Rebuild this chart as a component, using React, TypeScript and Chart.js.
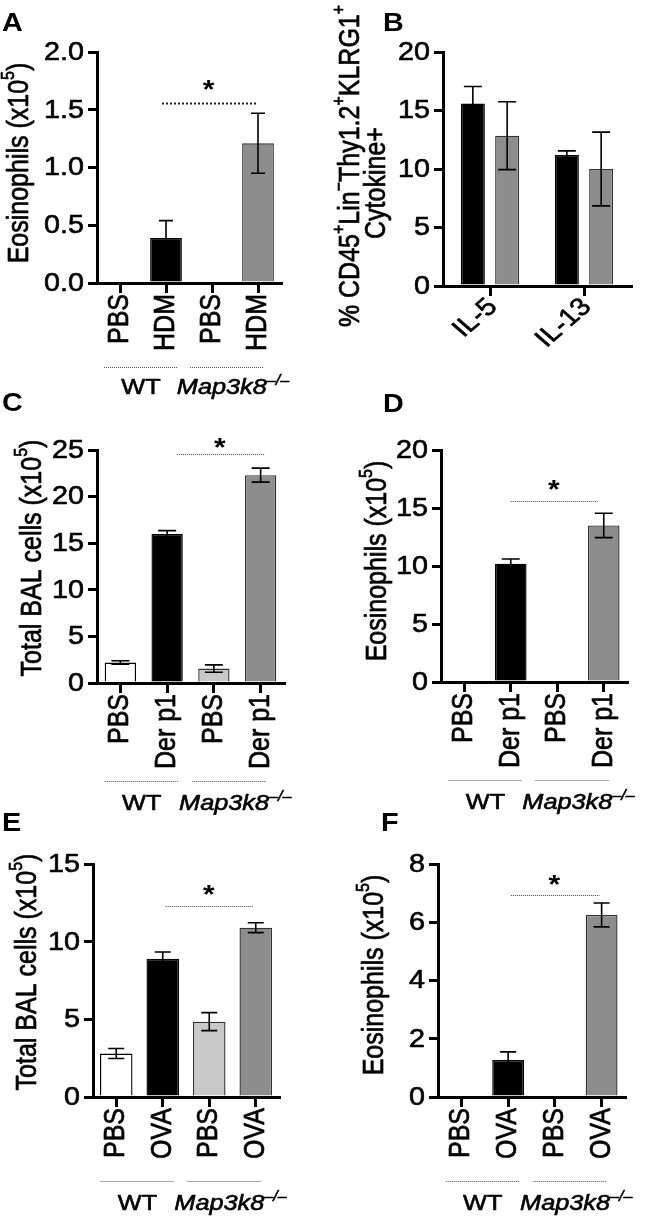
import React, { useEffect, useRef } from "react";
import { Chart, registerables } from "chart.js";
Chart.register(...registerables);

const FONT = '"Liberation Sans", Arial, Helvetica, sans-serif';
const SX = 1.15; // horizontal glyph stretch seen in the reference
const TEXT_STROKE = 0.6;

// ---------------- Data ----------------
const catA = ["PBS", "HDM", "PBS", "HDM"];
const meanA = [0, 0.39, 0, 1.21];
const semA = [0, 0.15, 0, 0.26];
const yTicksA = [0, 0.5, 1.0, 1.5, 2.0];
const sigA = 1.56;

const catB = ["IL-5", "IL-13"];
const meanB_WT = [15.6, 11.2];
const semB_WT = [1.45, 0.35];
const meanB_KO = [12.85, 10.0];
const semB_KO = [2.9, 3.15];
const yTicksB = [0, 5, 10, 15, 20];

const catC = ["PBS", "Der p1", "PBS", "Der p1"];
const meanC = [2.2, 16.0, 1.55, 22.3];
const semC = [0.18, 0.35, 0.4, 0.75];
const yTicksC = [0, 5, 10, 15, 20, 25];
const sigC = 24.6;

const catD = ["PBS", "Der p1", "PBS", "Der p1"];
const meanD = [0, 10.2, 0, 13.5];
const semD = [0, 0.4, 0, 1.05];
const yTicksD = [0, 5, 10, 15, 20];
const sigD = 15.6;

const catE = ["PBS", "OVA", "PBS", "OVA"];
const meanE = [2.8, 8.9, 4.85, 10.9];
const semE = [0.32, 0.43, 0.58, 0.32];
const yTicksE = [0, 5, 10, 15];
const sigE = 12.3;

const catF = ["PBS", "OVA", "PBS", "OVA"];
const meanF = [0, 1.27, 0, 6.25];
const semF = [0, 0.28, 0, 0.41];
const yTicksF = [0, 2, 4, 6, 8];
const sigF = 6.94;

const groupNames = ["WT", "Map3k8"];
const koSuperscript = "\u2013/\u2013";
const sigMark = "*";

// ---------------- Styles ----------------
const fourFill = ["#ffffff", "#000000", "#c8c8c8", "#8d8d8d"];
const fourBorder = ["#000000", "#000000", "#333333", "#333333"];

type Seg = { t: string; sup?: boolean; italic?: boolean; bold?: boolean };

const titleEos: Seg[][] = [[{ t: "Eosinophils (x10" }, { t: "5", sup: true }, { t: ")" }]];
const titleBal: Seg[][] = [[{ t: "Total BAL cells (x10" }, { t: "5", sup: true }, { t: ")" }]];
const titleB: Seg[][] = [
  [
    { t: "% CD45" }, { t: "+", sup: true }, { t: "Lin" }, { t: "\u2212", sup: true },
    { t: "Thy1.2" }, { t: "+", sup: true }, { t: "KLRG1" }, { t: "+", sup: true },
  ],
  [{ t: "Cytokine+" }],
];

interface DS { data: number[]; sem: number[]; fill: string[] | string; border: string[] | string }
interface PanelCfg {
  canvas: [number, number, number, number];
  area: [number, number, number, number];
  labels: string[];
  datasets: DS[];
  yTicks: number[];
  decimals: number;
  rotation: number;
  xLabelAnchor: [number, number];
  catPct: number;
  barPct: number;
  capW: number;
  letter: string;
  letterPos: [number, number];
  title: Seg[][];
  titlePos: [number, number][];
  sig?: { value: number; from: number; to: number; inset: [number, number]; starDy: number; bold: boolean };
  groups?: { lineDy: number; labelDy: number };
}

const fontFor = (s: Seg, size: number) =>
  `${s.italic ? "italic " : ""}${s.bold ? "bold " : ""}${s.sup ? Math.round(size * 0.62) : size}px ${FONT}`;

function heavyText(ctx: CanvasRenderingContext2D, text: string, x: number, y: number) {
  ctx.lineWidth = TEXT_STROKE;
  ctx.strokeStyle = "#000";
  ctx.lineJoin = "round";
  ctx.strokeText(text, x, y);
  ctx.fillText(text, x, y);
}

// draws segments in the current transform, starting/centred at (0,0)
function drawRich(ctx: CanvasRenderingContext2D, segs: Seg[], size: number, align: "center" | "left") {
  const widths = segs.map((s) => {
    ctx.font = fontFor(s, size);
    return ctx.measureText(s.t).width;
  });
  const total = widths.reduce((a, b) => a + b, 0);
  let cx = align === "center" ? -total / 2 : 0;
  ctx.textAlign = "left";
  segs.forEach((s, i) => {
    ctx.font = fontFor(s, size);
    heavyText(ctx, s.t, cx, s.sup ? -size * 0.4 : 0);
    cx += widths[i];
  });
}

function makeDecor(cfg: PanelCfg) {
  const ox = cfg.canvas[0];
  const oy = cfg.canvas[1];
  return {
    id: "decor",
    afterDatasetsDraw(chart: any) {
      const ctx: CanvasRenderingContext2D = chart.ctx;
      const ys = chart.scales.y;
      ctx.save();
      ctx.strokeStyle = "#000";
      ctx.lineWidth = 1.6;
      cfg.datasets.forEach((ds, di) => {
        const meta = chart.getDatasetMeta(di);
        meta.data.forEach((bar: any, i: number) => {
          const m = ds.data[i];
          const e = ds.sem[i];
          if (!e) return;
          const x = bar.x;
          const yt = ys.getPixelForValue(m + e);
          const yb = ys.getPixelForValue(m - e);
          const hw = cfg.capW / 2;
          ctx.beginPath();
          ctx.moveTo(x, yb);
          ctx.lineTo(x, yt);
          ctx.moveTo(x - hw, yt);
          ctx.lineTo(x + hw, yt);
          ctx.moveTo(x - hw, yb);
          ctx.lineTo(x + hw, yb);
          ctx.stroke();
        });
      });
      ctx.restore();
    },
    afterDraw(chart: any) {
      const ctx: CanvasRenderingContext2D = chart.ctx;
      const xs = chart.scales.x;
      const ys = chart.scales.y;
      const area = chart.chartArea;
      ctx.save();
      ctx.fillStyle = "#000";

      // y tick labels
      ys.ticks.forEach((tk: any) => {
        const y = ys.getPixelForValue(tk.value);
        ctx.save();
        ctx.translate(area.left - 13, y + 1);
        ctx.scale(SX, 1);
        ctx.font = `25px ${FONT}`;
        ctx.textAlign = "right";
        ctx.textBaseline = "middle";
        heavyText(ctx, Number(tk.value).toFixed(cfg.decimals), 0, 0);
        ctx.restore();
      });

      // x tick labels
      cfg.labels.forEach((lab, i) => {
        const x = xs.getPixelForValue(i);
        ctx.save();
        ctx.translate(x + cfg.xLabelAnchor[0], area.bottom + cfg.xLabelAnchor[1]);
        ctx.scale(SX, 1);
        ctx.rotate((-cfg.rotation * Math.PI) / 180);
        ctx.font = `25px ${FONT}`;
        ctx.textAlign = "right";
        ctx.textBaseline = "middle";
        heavyText(ctx, lab, 0, 0);
        ctx.restore();
      });

      // panel letter
      ctx.save();
      ctx.translate(cfg.letterPos[0] - ox, cfg.letterPos[1] - oy);
      ctx.scale(SX, 1);
      ctx.font = `bold 25px ${FONT}`;
      ctx.textAlign = "left";
      ctx.textBaseline = "alphabetic";
      ctx.fillText(cfg.letter, 0, 0);
      ctx.restore();

      // y title
      cfg.title.forEach((line, li) => {
        const [tx, ty] = cfg.titlePos[li];
        ctx.save();
        ctx.translate(tx - ox, ty - oy);
        ctx.scale(SX, 1);
        ctx.rotate(-Math.PI / 2);
        ctx.textBaseline = "middle";
        drawRich(ctx, line, 25, "center");
        ctx.restore();
      });

      // significance
      if (cfg.sig) {
        const s = cfg.sig;
        const x1 = xs.getPixelForValue(s.from) + s.inset[0];
        const x2 = xs.getPixelForValue(s.to) + s.inset[1];
        const y = Math.round(ys.getPixelForValue(s.value)) + 0.5;
        ctx.save();
        if (s.bold) {
          ctx.lineWidth = 2;
          ctx.setLineDash([2, 2]);
          ctx.strokeStyle = "#222";
        } else {
          ctx.lineWidth = 1;
          ctx.setLineDash([1, 1]);
          ctx.strokeStyle = "#444";
        }
        ctx.beginPath();
        ctx.moveTo(x1, y);
        ctx.lineTo(x2, y);
        ctx.stroke();
        ctx.restore();
        ctx.save();
        ctx.translate((x1 + x2) / 2 - 1, y - s.starDy + 5);
        ctx.scale(SX, 1);
        ctx.font = `bold 26px ${FONT}`;
        ctx.textAlign = "center";
        ctx.textBaseline = "middle";
        ctx.fillText(sigMark, 0, 0);
        ctx.restore();
      }

      // groups
      if (cfg.groups) {
        const g = cfg.groups;
        const p = [0, 1, 2, 3].map((i) => xs.getPixelForValue(i));
        const cWT = (p[0] + p[1]) / 2 - 2;
        const cKO = (p[2] + p[3]) / 2 - 8;
        const ly = Math.round(area.bottom + g.lineDy) + 0.5;
        ctx.save();
        ctx.lineWidth = 1;
        ctx.setLineDash([1, 1]);
        ctx.strokeStyle = "#555";
        [cWT, cKO].forEach((c) => {
          ctx.beginPath();
          ctx.moveTo(c - 37, ly);
          ctx.lineTo(c + 37, ly);
          ctx.stroke();
        });
        ctx.restore();
        const by = ly + g.labelDy;
        ctx.textBaseline = "alphabetic";
        ctx.save();
        ctx.translate(cWT, by);
        ctx.scale(SX, 1);
        drawRich(ctx, [{ t: groupNames[0] }], 22, "center");
        ctx.restore();
        ctx.save();
        ctx.translate(cKO + 6, by);
        ctx.scale(SX, 1);
        drawRich(ctx, [{ t: groupNames[1], italic: true }, { t: koSuperscript, italic: true, sup: true }], 22, "center");
        ctx.restore();
      }
      ctx.restore();
    },
  };
}

function buildConfig(cfg: PanelCfg): any {
  const [cx, cy, cw, ch] = cfg.canvas;
  const [l, t, r, b] = cfg.area;
  const yAxisW = l - cx;
  const xAxisH = cy + ch - b;
  const padTop = t - cy;
  const padRight = cx + cw - r;
  return {
    type: "bar",
    data: {
      labels: cfg.labels,
      datasets: cfg.datasets.map((ds) => ({
        data: ds.data,
        backgroundColor: ds.fill,
        borderColor: ds.border,
        borderWidth: 1.4,
        categoryPercentage: cfg.catPct,
        barPercentage: cfg.barPct,
      })),
    },
    options: {
      responsive: false,
      animation: false,
      devicePixelRatio: 1,
      layout: { padding: { left: 0, top: padTop, right: padRight, bottom: 0 } },
      plugins: { legend: { display: false }, tooltip: { enabled: false }, title: { display: false } },
      scales: {
        x: {
          type: "category",
          offset: true,
          grid: { display: true, offset: false, drawOnChartArea: false, drawTicks: true, tickLength: 10, lineWidth: 3, tickWidth: 3, tickColor: "#000", color: "#000" },
          border: { display: true, color: "#000", width: 3 },
          ticks: { display: false, autoSkip: false },
          afterFit: (s: any) => {
            s.height = xAxisH;
          },
        },
        y: {
          min: cfg.yTicks[0],
          max: cfg.yTicks[cfg.yTicks.length - 1],
          grid: { display: true, drawOnChartArea: false, drawTicks: true, tickLength: 9, lineWidth: 3, tickWidth: 3, tickColor: "#000", color: "#000" },
          border: { display: true, color: "#000", width: 3 },
          ticks: { display: false },
          afterBuildTicks: (s: any) => {
            s.ticks = cfg.yTicks.map((v) => ({ value: v }));
          },
          afterFit: (s: any) => {
            s.width = yAxisW;
          },
        },
      },
    },
    plugins: [makeDecor(cfg)],
  };
}

const panels: PanelCfg[] = [
  {
    canvas: [0, 0, 328, 400],
    area: [97, 52, 281, 283],
    labels: catA,
    datasets: [{ data: meanA, sem: semA, fill: fourFill, border: fourBorder }],
    yTicks: yTicksA,
    decimals: 1,
    rotation: 90,
    xLabelAnchor: [0, 11],
    catPct: 1,
    barPct: 0.69,
    capW: 14,
    letter: "A",
    letterPos: [2, 31],
    title: titleEos,
    titlePos: [[20, 163]],
    sig: { value: sigA, from: 1, to: 3, inset: [-4, -1], starDy: 18, bold: true },
    groups: { lineDy: 84, labelDy: 26 },
  },
  {
    canvas: [328, 0, 328, 400],
    area: [443, 52, 631, 286],
    labels: catB,
    datasets: [
      { data: meanB_WT, sem: semB_WT, fill: "#000000", border: "#000000" },
      { data: meanB_KO, sem: semB_KO, fill: "#8d8d8d", border: "#333333" },
    ],
    yTicks: yTicksB,
    decimals: 0,
    rotation: 45,
    xLabelAnchor: [3, 17],
    catPct: 0.73,
    barPct: 0.7,
    capW: 18,
    letter: "B",
    letterPos: [383, 31],
    title: titleB,
    titlePos: [[351, 166], [377, 183]],
  },
  {
    canvas: [0, 390, 328, 425],
    area: [97, 450, 284, 683],
    labels: catC,
    datasets: [{ data: meanC, sem: semC, fill: fourFill, border: fourBorder }],
    yTicks: yTicksC,
    decimals: 0,
    rotation: 90,
    xLabelAnchor: [0, 11],
    catPct: 1,
    barPct: 0.67,
    capW: 18,
    letter: "C",
    letterPos: [2, 411],
    title: titleBal,
    titlePos: [[33, 558]],
    sig: { value: sigC, from: 1, to: 3, inset: [10, 4], starDy: 11, bold: false },
    groups: { lineDy: 98, labelDy: 28 },
  },
  {
    canvas: [328, 390, 328, 425],
    area: [441, 450, 627, 682],
    labels: catD,
    datasets: [{ data: meanD, sem: semD, fill: fourFill, border: fourBorder }],
    yTicks: yTicksD,
    decimals: 0,
    rotation: 90,
    xLabelAnchor: [0, 11],
    catPct: 1,
    barPct: 0.68,
    capW: 18,
    letter: "D",
    letterPos: [383, 412],
    title: titleEos,
    titlePos: [[378, 561]],
    sig: { value: sigD, from: 1, to: 3, inset: [0, -5], starDy: 16, bold: false },
    groups: { lineDy: 98, labelDy: 28 },
  },
  {
    canvas: [0, 808, 328, 408],
    area: [93, 864, 279, 1097],
    labels: catE,
    datasets: [{ data: meanE, sem: semE, fill: fourFill, border: fourBorder }],
    yTicks: yTicksE,
    decimals: 0,
    rotation: 90,
    xLabelAnchor: [0, 11],
    catPct: 1,
    barPct: 0.7,
    capW: 16,
    letter: "E",
    letterPos: [2, 831],
    title: titleBal,
    titlePos: [[28, 972]],
    sig: { value: sigE, from: 1, to: 3, inset: [3, -2], starDy: 16, bold: false },
    groups: { lineDy: 84, labelDy: 28 },
  },
  {
    canvas: [328, 808, 328, 408],
    area: [438, 864, 625, 1097],
    labels: catF,
    datasets: [{ data: meanF, sem: semF, fill: fourFill, border: fourBorder }],
    yTicks: yTicksF,
    decimals: 0,
    rotation: 90,
    xLabelAnchor: [0, 11],
    catPct: 1,
    barPct: 0.68,
    capW: 16,
    letter: "F",
    letterPos: [381, 831],
    title: titleEos,
    titlePos: [[375, 975]],
    sig: { value: sigF, from: 1, to: 3, inset: [3, -2], starDy: 15, bold: false },
    groups: { lineDy: 84, labelDy: 28 },
  },
];

function Panel({ cfg }: { cfg: PanelCfg }) {
  const ref = useRef<HTMLCanvasElement | null>(null);
  useEffect(() => {
    if (!ref.current) return;
    const chart = new Chart(ref.current, buildConfig(cfg));
    return () => chart.destroy();
  }, [cfg]);
  const [x, y, w, h] = cfg.canvas;
  return (
    <canvas
      ref={ref}
      width={w}
      height={h}
      style={{ position: "absolute", left: x, top: y, width: w, height: h }}
    />
  );
}

export default function App() {
  return (
    <div style={{ position: "absolute", left: 0, top: 0, width: 656, height: 1216, background: "#fff", overflow: "hidden" }}>
      {panels.map((p, i) => (
        <Panel key={i} cfg={p} />
      ))}
    </div>
  );
}
